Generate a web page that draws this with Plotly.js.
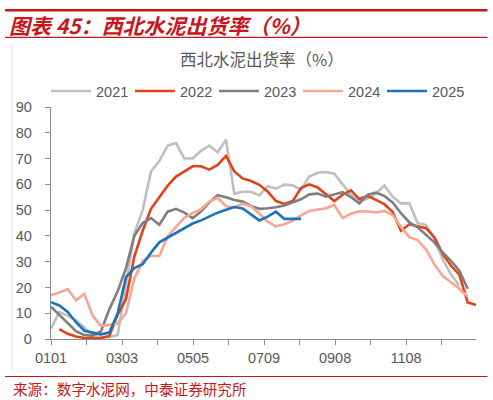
<!DOCTYPE html>
<html>
<head>
<meta charset="utf-8">
<script src="https://cdn.plot.ly/plotly-3.0.1.min.js"></script>
<style>
  html, body { margin: 0; padding: 0; background: #ffffff; }
  #chart { width: 493px; height: 400px; }
</style>
</head>
<body>
<div id="chart"></div>
<script>
// ---- data ----
const weekIndex = [0,1,2,3,4,5,6,7,8,9,10,11,12,13,14,15,16,17,18,19,20,21,22,23,24,25,
                   26,27,28,29,30,31,32,33,34,35,36,37,38,39,40,41,42,43,44,45,46,47,48,49,50,51];
const seriesNames = ['2021', '2022', '2023', '2024', '2025'];

const y2021 = [4, 10.5, 9, 7.2, 4.5, 1.5, 0.7, 0.7, 1.5, 22, 41, 50, 65, 69, 75, 76, 70, 70, 73, 75,
               72.4, 77.3, 56.4, 57.1, 57.1, 55.7, 59.3, 58.3, 59.9, 59.6, 57.9, 63, 64.5, 64.8, 64.1, 60,
               56, 53.3, 54.5, 56.4, 59.6, 55.2, 52.6, 52.6, 45, 44.3, 39, 31, 25, 20.7];
const y2022 = [null, 3.8, 2, 1, 0.4, 0.3, 0.4, 1.2, 9.5, 15.5, 32, 42, 50.5, 55, 59.5, 63, 65, 67, 67, 65.7,
               67.5, 71, 65, 62.3, 61.3, 59.8, 57.2, 53.5, 52.4, 53.5, 58.6, 60, 58.8, 56, 53.5, 56,
               57.7, 54.3, 55.5, 54, 52.3, 49.3, 42, 44.5, 43.7, 43, 39.5, 33, 28.4, 25, 14.2, 13.2];
const y2023 = [12.5, 9.2, 6.3, 3, 1.5, 1.3, 3, 11.5, 18.5, 27.5, 40, 45, 46.9, 44.3, 49.4, 50.5, 49, 46.9, 49.4, 53,
               55.8, 55, 53.9, 53.3, 51.6, 50.5, 50.7, 51.1, 51.8, 53, 54.2, 56.1, 56.4, 55.2, 56, 57,
               55, 52.6, 56, 56.8, 55.5, 53, 48.8, 45.2, 43.3, 40.3, 37.5, 33.6, 30.3, 26.5, 19.5];
const y2024 = [17, 18, 19.4, 15, 17.5, 9, 5, 5.5, 6, 10, 23.5, 30.3, 32.2, 32.2, 39.8, 43.5, 47, 48.8, 50.4, 53.3,
               54.8, 51.5, 51, 52.5, 51.5, 48.6, 45.5, 43.7, 44.5, 45.9, 48, 49.7, 50.1, 50.7, 52, 46.9,
               48.6, 49.5, 49.5, 49.1, 49.7, 48.1, 43.5, 39.5, 38.4, 34.8, 29, 24.5, 22, 19.5, 16.5];
const y2025 = [14.3, 13, 10.5, 6.5, 3.2, 2.6, 1.8, 2.5, 10, 24, 27.5, 29, 33.5, 37.5, 39.3, 41.2, 43, 44.8, 46, 47.5,
               49, 50.1, 51.2, 50.6, 48.3, 46, 47.5, 49.4, 46.6, 46.6, 46.6];

const tickText = ['0101', '', '0303', '', '0505', '', '0709', '', '0908', '', '1108', ''];
const yTicks = [0, 10, 20, 30, 40, 50, 60, 70, 80, 90];

// ---- styles ----
const colors = ['#bfbfbf', '#de4416', '#7f7f7f', '#f7a693', '#1874bf'];
const allY = [y2021, y2022, y2023, y2024, y2025];
const weeksPerTick = 4.261;
const tickVals = tickText.map((_, k) => k * weeksPerTick);

const traces = allY.map((ys, s) => ({
  type: 'scatter',
  mode: 'lines',
  name: seriesNames[s],
  x: weekIndex.slice(0, ys.length),
  y: ys,
  line: { color: colors[s], width: 2.6 },
  connectgaps: false,
  hoverinfo: 'skip'
}));

// plot area in pixels: left 51, right 476.5, top 104, bottom 339
const L = 51, R = 476.5, T = 104, B = 339;
const px = v => (v - L) / (R - L);
const py = v => (B - v) / (B - T);
const red = '#c8161d';

const layout = {
  width: 493, height: 400,
  margin: { l: L, r: 493 - R, t: T, b: 400 - B, pad: 0 },
  paper_bgcolor: '#ffffff',
  plot_bgcolor: '#ffffff',
  showlegend: true,
  legend: {
    orientation: 'h',
    xref: 'container', yref: 'container',
    x: 46 / 493, y: (400 - 91) / 400,
    xanchor: 'left', yanchor: 'middle',
    font: { family: 'Liberation Sans, Arial, sans-serif', size: 14.5, color: '#595959' },
    entrywidth: 29, entrywidthmode: 'pixels',
    itemwidth: 40,
    bgcolor: 'rgba(0,0,0,0)',
    tracegroupgap: 0
  },
  xaxis: {
    range: [0, 51],
    tickmode: 'array',
    tickvals: tickVals,
    ticktext: tickText,
    ticks: 'outside', ticklen: 5, tickwidth: 1, tickcolor: '#8c8c8c',
    showline: true, linecolor: '#8c8c8c', linewidth: 1.2,
    showgrid: false, zeroline: false,
    tickfont: { family: 'Liberation Sans, Arial, sans-serif', size: 14.5, color: '#595959' },
    fixedrange: true
  },
  yaxis: {
    range: [0, 90],
    tickmode: 'array',
    tickvals: yTicks,
    ticktext: yTicks.map(String),
    ticks: 'outside', ticklen: 5, tickwidth: 1, tickcolor: '#8c8c8c',
    ticklabelstandoff: 10,
    showline: true, linecolor: '#8c8c8c', linewidth: 1.2,
    showgrid: false, zeroline: false,
    tickfont: { family: 'Liberation Sans, Arial, sans-serif', size: 14.5, color: '#595959' },
    fixedrange: true
  },
  shapes: [
    { type: 'line', xref: 'paper', yref: 'paper', x0: px(5), x1: px(488), y0: py(6), y1: py(6),
      line: { color: red, width: 2.4 } },
    { type: 'line', xref: 'paper', yref: 'paper', x0: px(5), x1: px(488), y0: py(33.5), y1: py(33.5),
      line: { color: red, width: 1.2 } },
    { type: 'line', xref: 'paper', yref: 'paper', x0: px(5), x1: px(488), y0: py(377), y1: py(377),
      line: { color: red, width: 1.2 } },
    { type: 'line', xref: 'paper', yref: 'paper', x0: px(12), x1: px(12), y0: py(42), y1: py(372),
      line: { color: '#e3e3e3', width: 1 } }
  ],
  annotations: [
    { xref: 'paper', yref: 'paper', x: px(7), y: py(21), xanchor: 'left', yanchor: 'middle',
      showarrow: false, text: '<b><i>图表 45：西北水泥出货率（%）</i></b>',
      font: { family: 'Noto Sans CJK SC, sans-serif', size: 21, color: red } },
    { xref: 'paper', yref: 'paper', x: px(262), y: py(55.5), xanchor: 'center', yanchor: 'middle',
      showarrow: false, text: '西北水泥出货率（%）',
      font: { family: 'Noto Sans CJK SC, sans-serif', size: 16.5, color: '#595959' } },
    { xref: 'paper', yref: 'paper', x: px(11), y: py(389.5), xanchor: 'left', yanchor: 'middle',
      showarrow: false, text: '来源：数字水泥网，中泰证券研究所',
      font: { family: 'Noto Sans CJK SC, sans-serif', size: 14.6, color: red } }
  ]
};

Plotly.newPlot('chart', traces, layout, { staticPlot: true, displayModeBar: false });
</script>
</body>
</html>
